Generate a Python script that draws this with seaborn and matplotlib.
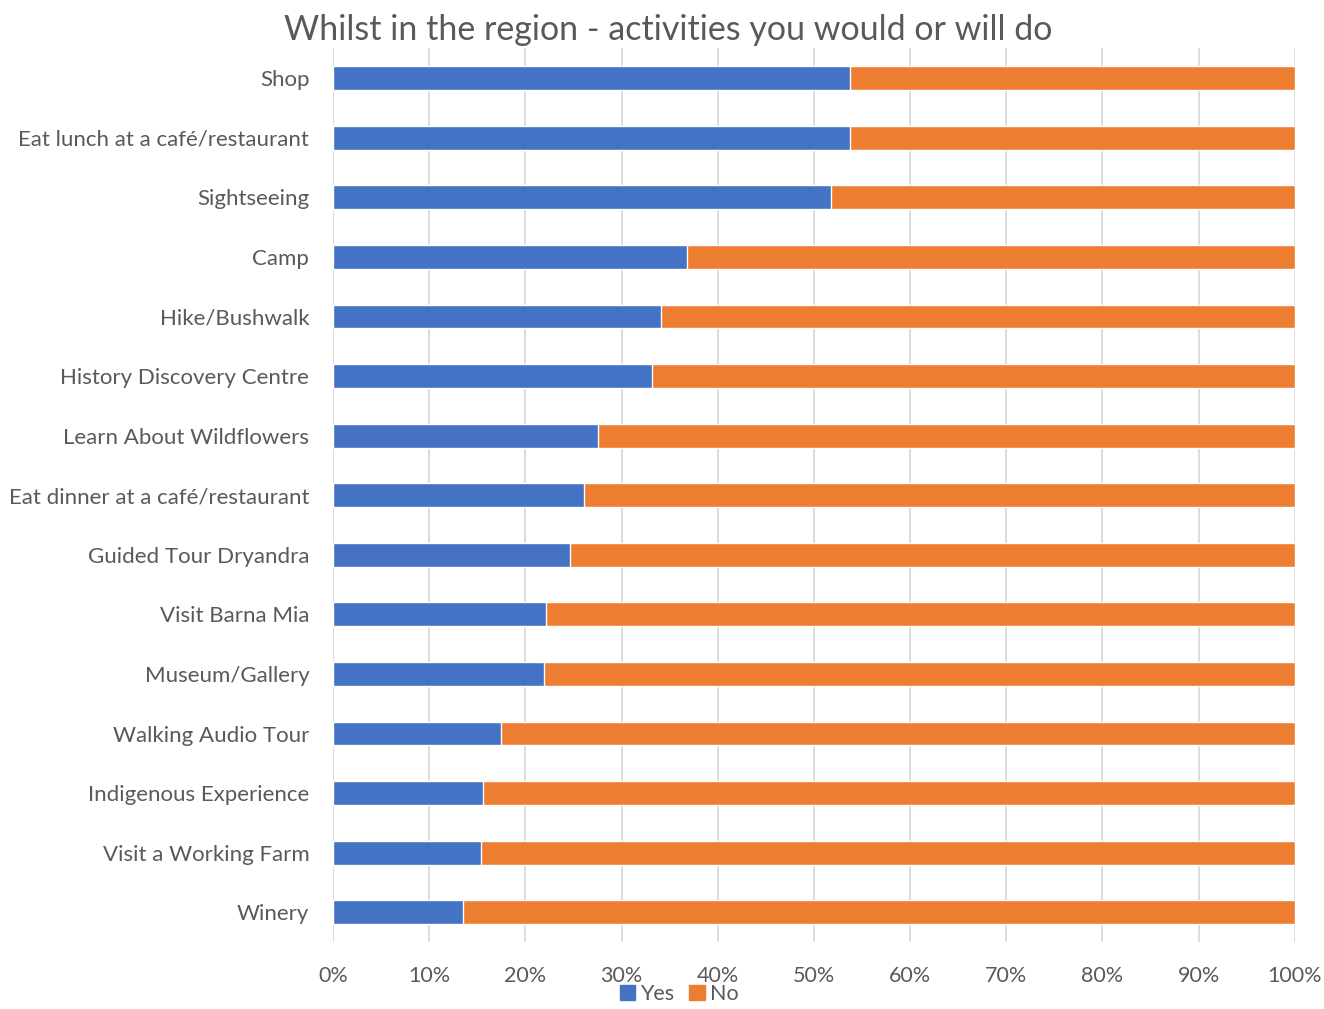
import matplotlib
matplotlib.use("Agg")
import matplotlib.pyplot as plt
from matplotlib.patches import Patch
from matplotlib.ticker import PercentFormatter, MultipleLocator
import seaborn as sns
import pandas as pd

activities = [
    "Shop",
    "Eat lunch at a café/restaurant",
    "Sightseeing",
    "Camp",
    "Hike/Bushwalk",
    "History Discovery Centre",
    "Learn About Wildflowers",
    "Eat dinner at a café/restaurant",
    "Guided Tour Dryandra",
    "Visit Barna Mia",
    "Museum/Gallery",
    "Walking Audio Tour",
    "Indigenous Experience",
    "Visit a Working Farm",
    "Winery",
]
yes_pct = [53.8, 53.8, 51.8, 36.8, 34.1, 33.2, 27.5, 26.1, 24.6, 22.1, 21.9, 17.5, 15.6, 15.4, 13.5]
no_pct = [100 - v for v in yes_pct]

BLUE = "#4472C4"
ORANGE = "#ED7D31"
TEXT = "#595959"
GRID = "#D9D9D9"

sns.set_theme(style="white")
plt.rcParams["font.family"] = ["Lato", "DejaVu Sans"]

df = pd.DataFrame({"activity": activities, "yes": yes_pct, "no": no_pct})
df["total"] = df["yes"] + df["no"]

fig = plt.figure(figsize=(13.24, 10.09), dpi=100)
ax = fig.add_axes([0.2515, 0.0664, 0.7265, 0.8856])

# stacked: full-length "No" bar behind, "Yes" bar drawn over it
sns.barplot(data=df, x="total", y="activity", color=ORANGE, saturation=1,
            width=0.4, ax=ax, zorder=2)
sns.barplot(data=df, x="yes", y="activity", color=BLUE, saturation=1,
            width=0.4, ax=ax, zorder=3)

ax.set_xlim(0, 100)
ax.set_ylim(len(activities) - 0.5, -0.5)
ax.xaxis.set_major_locator(MultipleLocator(10))
ax.xaxis.set_major_formatter(PercentFormatter(decimals=0))
ax.grid(axis="x", color=GRID, linewidth=1.3, zorder=0)
ax.set_axisbelow(True)
for s in ax.spines.values():
    s.set_visible(False)
ax.set_xlabel("")
ax.set_ylabel("")
ax.tick_params(axis="both", length=0, labelcolor=TEXT)
ax.tick_params(axis="y", pad=17, labelsize=16)
ax.tick_params(axis="x", pad=17, labelsize=15.5)

fig.suptitle("Whilst in the region - activities you would or will do",
             x=0.505, y=0.986, fontsize=24.5, color=TEXT, va="top")

handles = [Patch(color=BLUE, label="Yes"), Patch(color=ORANGE, label="No")]
fig.legend(handles=handles, loc="lower center", bbox_to_anchor=(0.513, -0.014),
           ncol=2, frameon=False, fontsize=15.5, labelcolor=TEXT,
           handlelength=0.7, handleheight=0.7, handletextpad=0.25, columnspacing=0.7)

fig.savefig("out.png", dpi=100)
